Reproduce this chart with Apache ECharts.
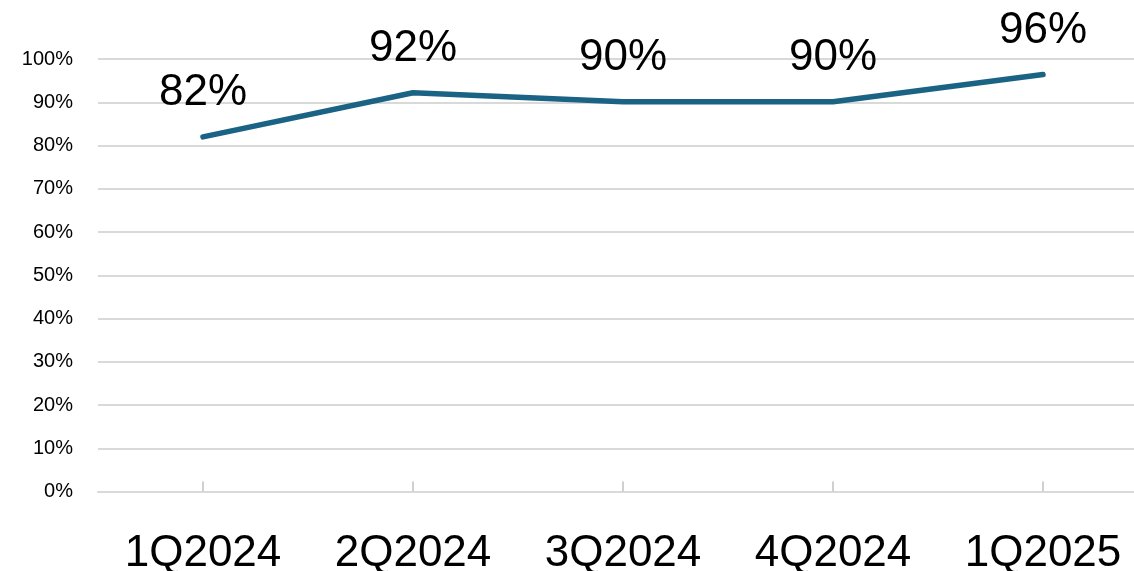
<!DOCTYPE html>
<html>
<head>
<meta charset="utf-8">
<script src="https://cdn.jsdelivr.net/npm/echarts@6/dist/echarts.min.js"></script>
<style>
  html, body { margin: 0; padding: 0; background: #fff; }
  #chart { width: 1134px; height: 571px; }
</style>
</head>
<body>
<div id="chart"></div>
<script>
// quarters on the x axis
const quarters = ['1Q2024', '2Q2024', '3Q2024', '4Q2024', '1Q2025'];
// share per quarter, in percent
const shares = [82, 92.2, 90.1, 90.1, 96.4];

const chart = echarts.init(document.getElementById('chart'));
chart.setOption({
  animation: false,
  textStyle: { fontFamily: 'Liberation Sans, Arial, sans-serif' },
  grid: {
    left: 98,
    top: 59,
    width: 1050,
    height: 432.5,
    containLabel: false,
    outerBoundsMode: 'none'
  },
  xAxis: {
    type: 'category',
    data: quarters,
    boundaryGap: true,
    axisLine: { lineStyle: { color: '#d9d9d9', width: 2 } },
    axisTick: { show: true, inside: true, alignWithLabel: true, length: 10, lineStyle: { color: '#d0d0d0', width: 2 } },
    axisLabel: { color: '#000', fontSize: 44, margin: 40 }
  },
  yAxis: {
    type: 'value',
    min: 0,
    max: 100,
    interval: 10,
    axisLine: { show: false },
    axisTick: { show: false },
    splitLine: { lineStyle: { color: '#d9d9d9', width: 2 } },
    axisLabel: { color: '#000', fontSize: 20, margin: 25, formatter: '{value}%' }
  },
  series: [{
    type: 'line',
    data: shares,
    symbol: 'circle',
    symbolSize: 0,
    showSymbol: true,
    itemStyle: { color: '#1b6384' },
    lineStyle: { color: '#1b6384', width: 5.5, cap: 'round' },
    label: {
      show: true,
      position: 'top',
      distance: 22,
      color: '#000',
      fontSize: 44,
      formatter: p => Math.round(p.value) + '%'
    },
    labelLayout: { hideOverlap: false }
  }]
});
</script>
</body>
</html>
